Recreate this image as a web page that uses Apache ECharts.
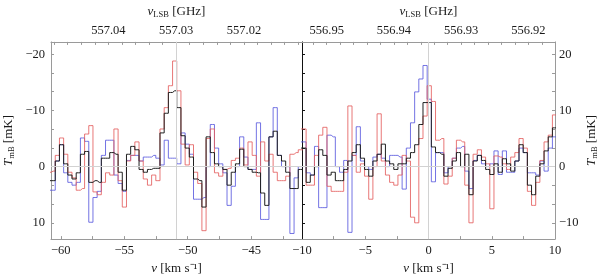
<!DOCTYPE html>
<html><head><meta charset="utf-8">
<script src="https://cdn.jsdelivr.net/npm/echarts@6/dist/echarts.min.js"></script>
<style>html,body{margin:0;padding:0;background:#fff}#c{width:600px;height:280px}</style>
</head><body><div id="c"></div>
<script>
// ---- Data (channel centres in km/s, brightness in mK) ----
const velLeft = [-60.93,-60.60,-60.27,-59.94,-59.61,-59.28,-58.95,-58.62,-58.29,-57.96,-57.63,-57.30,-56.97,-56.64,-56.31,-55.98,-55.65,-55.32,-54.99,-54.66,-54.33,-54.00,-53.67,-53.34,-53.01,-52.68,-52.35,-52.02,-51.69,-51.36,-51.03,-50.70,-50.37,-50.04,-49.71,-49.38,-49.05,-48.72,-48.39,-48.06,-47.73,-47.40,-47.07,-46.74,-46.41,-46.08,-45.75,-45.42,-45.09,-44.76,-44.43,-44.10,-43.77,-43.44,-43.11,-42.78,-42.45,-42.12,-41.79,-41.46,-41.13,-40.80];
const redLeft   = [1.0,0.8,-2,-5.1,-2.2,1,2,4.2,3.9,-5.8,-7.3,4.5,5.0,2.8,1.1,1.5,-6.7,2.5,7.2,-1,-2,-4.4,-1,2.2,3.3,1.5,2.5,-6.7,-10.5,-14.4,-18.8,-13.5,-4,-0.3,-3.9,1,3,11.4,-5,-6.7,1.1,1.7,0.5,0.3,-1.1,-1.5,-3.3,-0.3,-4.4,-2,1.7,-4.4,-1,-2.2,1,2.5,2.5,1.7,-2.2,-2.5,-3,-3];
const blueLeft  = [4.2,4.2,-1,-3.9,1.1,2.8,3.3,2.8,-5.1,-4.5,9.9,5.5,4.4,-2,-4.7,-4.7,1.5,3,4.4,-1.1,-2,-2,-1,-1.7,-1.7,-2,-1.5,-0.3,-4.7,-1.5,-1.5,-0.5,-6,-4,-2.2,5.8,5.8,5.5,0,-7.5,-3.3,-0.5,1.1,6.9,3.5,0,-5.3,-1.7,0.5,0.5,-7.8,9.4,9.4,-5.3,-10.5,-2,0,0,11.9,2,0,0];
const blackLeft = [2.5,2.5,-1,-3.9,-0.5,1.5,2.2,1.1,-2.2,-2.7,2.8,2.5,2.8,-1.5,-1.5,-2.5,-2.2,1,4.2,-2.2,-3.6,-3,0.5,1,0.5,0.3,0.3,-6,-9.5,-13.2,-13.5,-10.5,-5.5,-3.3,-1.7,2.2,2.5,7.2,-5.3,-2.5,-0.5,0,0.5,3.3,1,-0.5,-3.1,0,0.5,1,1.1,4.7,6.9,-5.3,-6.3,-2,-1,1,3.9,3.9,0.5,0.5];

const velRight = [-10.17,-9.84,-9.51,-9.18,-8.85,-8.52,-8.19,-7.86,-7.53,-7.20,-6.87,-6.54,-6.21,-5.88,-5.55,-5.22,-4.89,-4.56,-4.23,-3.90,-3.57,-3.24,-2.91,-2.58,-2.25,-1.92,-1.59,-1.26,-0.93,-0.60,-0.27,0.06,0.39,0.72,1.05,1.38,1.71,2.04,2.37,2.70,3.03,3.36,3.69,4.02,4.35,4.68,5.01,5.34,5.67,6.00,6.33,6.66,6.99,7.32,7.65,7.98,8.31,8.64,8.97,9.30,9.63,9.96,10.29];
const redRight   = [6.7,6.7,-3.3,-3.3,2,5.6,7,-3.5,-4.4,-4.4,-4.4,-1,10.8,2,-1,0.5,-1.7,-5.8,0,9.4,1,-1.5,-2.8,-3.3,-1.5,2,1,-9,-10,5,9,14.4,11.6,4.7,5,-3.1,-1.7,1.5,4.7,4.4,-3.3,-10,2.2,3,1.7,0.5,-7.5,1.9,1.7,0.5,-0.5,1.7,2.5,5,3.3,-4.4,-6.9,-2.8,1.1,4.4,5.6,9.2,9.2];
const blueRight  = [4.4,4.4,-1.1,-1.5,3.6,-7.3,-7.3,5.6,5.3,0,-1,1.1,-11.7,2,7.1,1,0,-0.5,1.7,2.2,1.5,0,2,2,1.7,-4,3.3,7.8,13.3,15.6,18,12,-2.7,2.5,2.5,-1.1,0,1.5,3.3,3.6,-0.8,-3.9,1.1,2,0.5,0,0.5,2.8,-1.4,2.8,-1,-1,1,3.3,2.5,-1.1,-1.1,-1.5,1,-0.8,3.3,5.3,5.3];
const blackRight = [3.3,3.3,-2.8,-1.5,0,3,2,-1.5,-1,-2.5,-2.5,-0.5,1,2.5,3.9,1.5,-0.5,-1.7,1,2.2,4,1,0.5,-0.5,0.5,0.5,1.5,2.5,3.9,7.5,11.4,11.4,3.5,2.5,2.2,-1.7,-0.3,1,2.5,0,2.2,-5,1,2,1.1,-0.5,-1.4,0.5,-1,1.4,0.5,-0.8,1,3.9,2.5,-3.3,-5,-1.7,0.5,2.8,5.3,6.9,6.9];

// ---- Tick labels ----
const vTicksLeft  = [-60,-55,-50,-45];
const vTicksRight = [-10,-5,0,5,10];
const fTicksLeft  = [557.04,557.03,557.02];
const fTicksRight = [556.95,556.94,556.93,556.92];
const tTicksLeft  = [-20,-10,0,10];
const tTicksRight = [20,10,0,-10];
const refVelLeft = -50.9, refVelRight = 0;

// ---- Helpers ----
function steps(a,b,s){const o=[];for(let v=a;v<=b+1e-9;v+=s)o.push(+v.toFixed(4));return o;}
const FONT='Liberation Serif';
const AXC='#9a9a9a', TXT='#1a1a1a';
const fmtNum = v => String(v).replace('-','\u2212');
const rich = {
  i:{fontStyle:'italic',fontFamily:FONT,fontSize:13,color:TXT},
  s:{fontFamily:FONT,fontSize:8.5,color:TXT,padding:[6,0,0,0]},
  n:{fontFamily:FONT,fontSize:13,color:TXT}
};
function xAx(grid,pos,min,max,inverse,labels,ticks,fmt,name){
  return {gridIndex:grid,type:'value',position:pos,min:min,max:max,inverse:inverse,
    axisLine:{show:true,onZero:false,lineStyle:{color:AXC,width:1}},
    axisTick:{show:true,inside:true,length:3,customValues:ticks,lineStyle:{color:AXC}},
    axisLabel:{show:true,customValues:labels,formatter:fmt,color:TXT,fontFamily:FONT,fontSize:12.5,margin:5},
    splitLine:{show:false},
    name:name,nameLocation:'middle',nameGap:pos==='bottom'?22:22,
    nameTextStyle:{fontFamily:FONT,fontSize:13,color:TXT,rich:rich}};
}
function yAx(grid,pos,min,max,inverse,labels,ticks,name,color,gap){
  return {gridIndex:grid,type:'value',position:pos,min:min,max:max,inverse:inverse,
    axisLine:{show:true,onZero:false,lineStyle:{color:color,width:1}},
    axisTick:{show:true,inside:true,length:3,customValues:ticks,lineStyle:{color:color}},
    axisLabel:{show:!!labels,customValues:labels||[],formatter:fmtNum,color:TXT,fontFamily:FONT,fontSize:12.5,margin:pos==='left'?6:4},
    splitLine:{show:false},
    name:name||'',nameLocation:'middle',nameRotate:90,nameGap:gap||0,
    nameTextStyle:{fontFamily:FONT,fontSize:13,color:TXT,rich:rich}};
}
const vName='{i|v}{n| [km s\u207B\u00B9]}';
const fName='{i|\u03BD}{s|LSB}{n| [GHz]}';
const tName='{i|T}{s|mB}{n| [mK]}';

const grids=[{left:51,top:33.5,width:251,height:210.5},{left:302,top:33.5,width:253,height:210.5}];
const xAxes=[
  xAx(0,'bottom',-60.77,-41.0,false,vTicksLeft,steps(-60,-42.5,2.5),fmtNum,vName),
  xAx(0,'top',557.01145,557.04845,true,fTicksLeft,steps(557.012,557.048,0.002),v=>v.toFixed(2),fName),
  xAx(1,'bottom',-10,10,false,vTicksRight,steps(-7.5,7.5,2.5),fmtNum,vName),
  xAx(1,'top',556.91603,556.95368,true,fTicksRight,steps(556.918,556.952,0.002),v=>v.toFixed(2),fName)
];
const yAxes=[
  yAx(0,'left',-22.2,12.9,true,tTicksLeft,[-20,-16.67,-13.33,-10,-6.67,-3.33,0,3.33,6.67,10],tName,TXT,35),
  yAx(1,'right',-12.9,22.2,false,tTicksRight,[-10,-6.67,-3.33,0,3.33,6.67,10,13.33,16.67,20],tName,TXT,29),
  yAx(1,'left',-12.9,22.2,false,null,[-10,-6.67,-3.33,0,3.33,6.67,10,13.33,16.67,20],'', '#111',0)
];
yAxes[0].axisLine.lineStyle.color=AXC; yAxes[0].axisTick.lineStyle.color=AXC;
yAxes[1].axisLine.lineStyle.color=AXC; yAxes[1].axisTick.lineStyle.color=AXC;

const pair=(xs,ys)=>xs.map((x,k)=>[x,ys[k]]);
function stepSeries(xi,yi,xs,ys,color,z){
  return {type:'line',xAxisIndex:xi,yAxisIndex:yi,data:pair(xs,ys),step:'middle',
    symbol:'none',showSymbol:false,clip:true,z:z,animation:false,
    lineStyle:{color:color,width:1}};
}
function refSeries(xi,yi,xv){
  return {type:'line',xAxisIndex:xi,yAxisIndex:yi,data:[],z:1,animation:false,
    markLine:{silent:true,symbol:'none',label:{show:false},animation:false,
      lineStyle:{color:'#d2d2d2',width:1,type:'solid'},
      data:[{xAxis:xv},{yAxis:0}]}};
}
const RED='rgba(228,95,95,0.85)', BLUE='rgba(90,90,222,0.85)', BLACK='#202020';
const series=[
  refSeries(0,0,refVelLeft),
  stepSeries(0,0,velLeft,blueLeft,BLUE,2),
  stepSeries(0,0,velLeft,redLeft,RED,3),
  stepSeries(0,0,velLeft,blackLeft,BLACK,4),
  refSeries(2,1,refVelRight),
  stepSeries(2,1,velRight,blueRight,BLUE,2),
  stepSeries(2,1,velRight,redRight,RED,3),
  stepSeries(2,1,velRight,blackRight,BLACK,4)
];
const chart=echarts.init(document.getElementById('c'),null,{renderer:'canvas'});
chart.setOption({animation:false,grid:grids,xAxis:xAxes,yAxis:yAxes,series:series});
</script></body></html>
